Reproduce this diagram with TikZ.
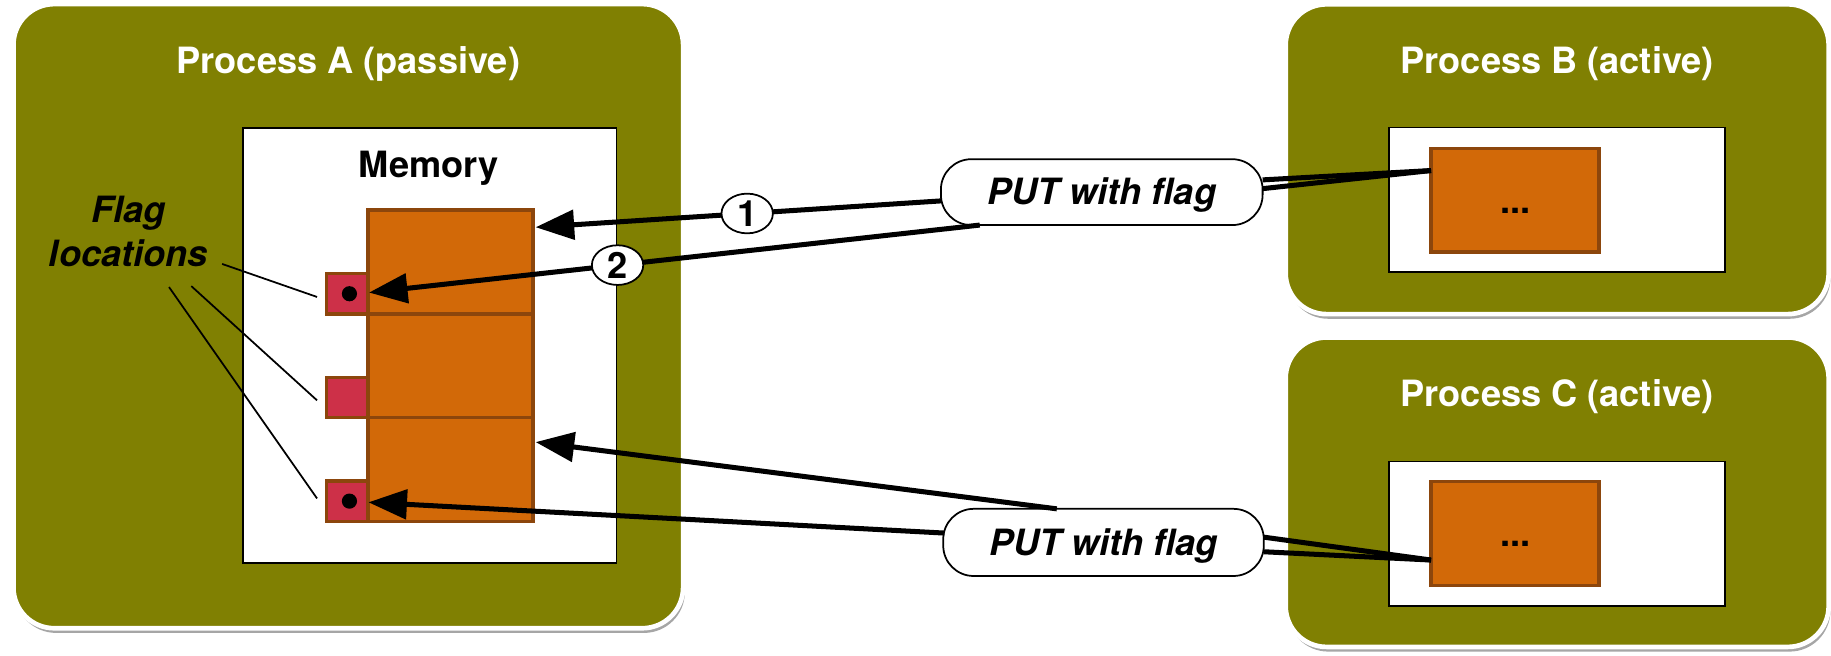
\documentclass[tikz,border=0pt]{standalone}
\usepackage{fontspec}
\setmainfont{TeX Gyre Heros}
\usetikzlibrary{arrows.meta,calc,shadows,shapes.geometric}
\definecolor{olivebg}{RGB}{128,128,2}
\definecolor{memorange}{RGB}{210,105,8}
\definecolor{membrown}{RGB}{140,70,12}
\definecolor{flagred}{RGB}{205,48,72}
\tikzset{
  bigfont/.style={font=\fontsize{31}{37.6}\selectfont\bfseries},
  proc/.style={draw=white, line width=4pt, fill=olivebg, rounded corners=35pt,
    inner sep=0pt, outer sep=0pt,
    drop shadow={shadow xshift=1.5pt, shadow yshift=-4pt, opacity=0.35, fill=black}},
  proctitle/.style={bigfont, text=white, anchor=base, inner sep=0pt},
  membox/.style={draw=black, line width=1.5pt, fill=white, inner sep=0pt, outer sep=0pt},
  cellbox/.style={draw=membrown, line width=3pt, fill=memorange, inner sep=0pt, outer sep=0pt},
  flagbox/.style={draw=membrown, line width=3pt, fill=flagred, inner sep=0pt, outer sep=0pt,
    minimum width=35.5pt, minimum height=34.5pt},
  flagdot/.style={circle, fill=black, inner sep=0pt, minimum size=13pt},
  putbox/.style={draw=black, line width=1.5pt, fill=white, rounded corners=26pt,
    inner sep=0pt, outer sep=0pt, font=\fontsize{31}{37.6}\selectfont\bfseries\itshape,
    text height=22pt, text depth=0pt},
  numlab/.style={ellipse, draw=black, fill=white, line width=1.5pt, minimum width=44pt,
    minimum height=34pt, inner sep=0pt, bigfont},
  arr/.style={line width=4.3pt, -{Triangle[length=33pt,width=25pt]}},
  conn/.style={line width=4.3pt},
  leader/.style={line width=1.5pt}
}
\begin{document}
\begin{tikzpicture}[x=1pt,y=-1pt,bigfont]
\fill[white] (0,0) rectangle (1568,561);
\useasboundingbox (0,0) rectangle (1568,561);

% process boxes
\node[proc, minimum width=573.5pt, minimum height=534.5pt] (procA) at (298.25,270.75) {};
\node[proc, minimum width=465pt, minimum height=265.3pt] (procB) at (1333.5,136.35) {};
\node[proc, minimum width=465pt, minimum height=265pt] (procC) at (1333.5,421.5) {};
\node[proctitle] (titleA) at ($(procA.north)+(0,59.5)$) {Process A (passive)};
\node[proctitle] (titleB) at ($(procB.north)+(0,59.5)$) {Process B (active)};
\node[proctitle] (titleC) at ($(procC.north)+(0,59.5)$) {Process C (active)};

% memory of A
\node[membox, minimum width=319.6pt, minimum height=372.5pt] (memA) at (368.15,296) {};
\node[anchor=base, inner sep=0pt] (memlabel) at ($(memA.north)+(-1,42.25)$) {Memory};
\node[flagbox] (flag1) at (297.25,251.55) {};
\node[flagbox] (flag2) at (297.25,340.35) {};
\node[flagbox] (flag3) at (297.25,429.15) {};
\node[cellbox, minimum width=141.5pt, minimum height=88.8pt] (cell1) at (385.75,224.4) {};
\node[cellbox, minimum width=141.5pt, minimum height=88.8pt] (cell2) at (385.75,313.2) {};
\node[cellbox, minimum width=141.5pt, minimum height=88.8pt] (cell3) at (385.75,402) {};
\node[flagdot] (dot1) at ($(flag1.center)+(2,0)$) {};
\node[flagdot] (dot3) at ($(flag3.center)+(2,0)$) {};

% flag locations label
\node[align=center, inner sep=0pt, font=\fontsize{31}{37.6}\selectfont\bfseries\itshape]
  (flagtxt) at (110,198.6) {Flag\\locations};
\draw[leader] ($(flagtxt.south east)+(12,-3)$) -- ($(flag1.west)+(-8,2.75)$);
\draw[leader] ($(flagtxt.south east)+(-14.4,16)$) -- ($(flag2.west)+(-8,2.5)$);
\draw[leader] ($(flagtxt.south east)+(-33.5,16.8)$) -- ($(flag3.west)+(-8,-2.3)$);

% memory of B and C
\node[membox, minimum width=287.5pt, minimum height=124pt] (memB) at (1333.5,171.25) {};
\node[cellbox, minimum width=144pt, minimum height=88.9pt] (obB) at (1297.5,171.55) {};
\node[anchor=base, inner sep=0pt] (dotsB) at ($(obB.center)+(0,11)$) {...};
\node[membox, minimum width=287.5pt, minimum height=123.5pt] (memC) at (1333.5,457) {};
\node[cellbox, minimum width=144pt, minimum height=89pt] (obC) at (1297.5,457) {};
\node[anchor=base, inner sep=0pt] (dotsC) at ($(obC.center)+(0,11)$) {...};

% PUT boxes
\node[putbox, minimum width=275.5pt, minimum height=56.4pt] (put1) at (943.5,164.55) {PUT with flag};
\node[putbox, minimum width=274.5pt, minimum height=57.5pt] (put2) at (945,464.5) {PUT with flag};

% connectors from active processes
\draw[conn] ($(put1.east)+(0,-10.5)$) -- ($(obB.west)+(0,-25.5)$);
\draw[conn] ($(put1.east)+(0,-3)$) -- ($(obB.west)+(0,-25.5)$);
\draw[conn] ($(put2.east)+(0,-4.5)$) -- ($(obC.west)+(0,22.6)$);
\draw[conn] ($(put2.east)+(0,8)$) -- ($(obC.west)+(0,22.6)$);

% arrows into memory of A
\draw[arr] ($(put1.west)+(0,7.5)$) -- node[numlab, pos=0.478] (lab1) {1} ($(cell1.north east)+(2.2,14.6)$);
\draw[arr] ($(put1.south)+(-104.5,0)$) -- node[numlab, pos=0.593] (lab2) {2} ($(flag1.east)+(1,-1)$);
\draw[arr] ($(put2.north)+(-40,0)$) -- ($(cell3.north east)+(2.2,21)$);
\draw[arr] ($(put2.west)+(1,-8)$) -- ($(flag3.east)+(0.5,1)$);
\end{tikzpicture}
\end{document}
